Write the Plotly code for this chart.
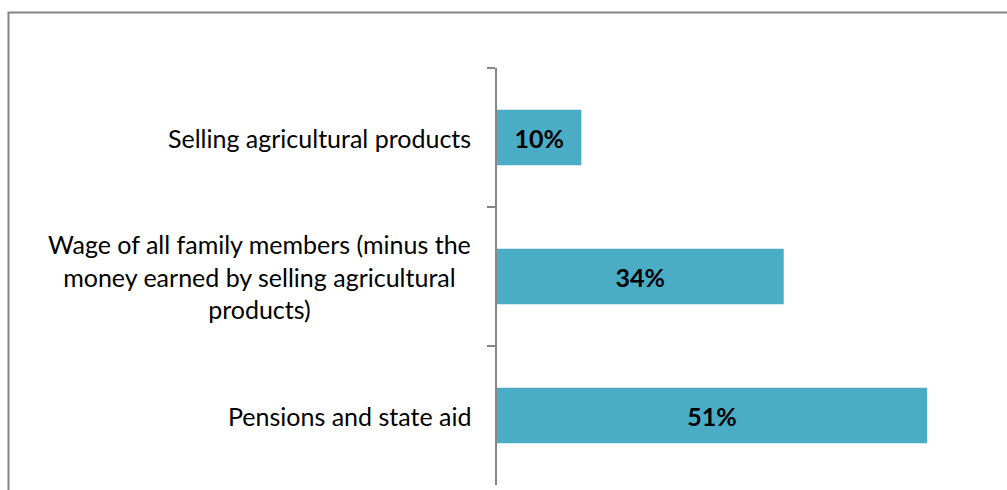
import plotly.graph_objects as go

# Income sources and their shares (%)
categories = [
    "Selling agricultural products",
    "Wage of all family members (minus the<br>money earned by selling agricultural<br>products)",
    "Pensions and state aid",
]
shares = [10, 34, 51]

BAR_COLOR = "#4BACC6"
FRAME_COLOR = "#868686"
FONT = "Lato"

W, H = 1007, 490
ML, MR, MT, MB = 497, 4, 68, 5
PW, PH = W - ML - MR, H - MT - MB

fig = go.Figure(
    go.Bar(
        x=shares,
        y=categories,
        orientation="h",
        marker=dict(color=BAR_COLOR, line=dict(width=0)),
        texttemplate="<b>%{x}%</b>",
        textposition="inside",
        insidetextanchor="middle",
        textfont=dict(family=FONT, size=25, color="#000000"),
        constraintext="none",
        hoverinfo="skip",
    )
)

# Category labels, centred multi-line text to the left of the axis
for cat in categories:
    fig.add_annotation(
        x=0, y=cat, xref="x", yref="y",
        text=cat, showarrow=False,
        xanchor="right", yanchor="middle", align="center",
        xshift=-24,
        font=dict(family=FONT, size=25, color="#000000"),
    )

# Outer chart frame (left and top edges visible)
fig.add_shape(
    type="rect", xref="paper", yref="paper",
    x0=(8.5 - ML) / PW, x1=(W + 20 - ML) / PW,
    y0=-(MB + 20) / PH, y1=1 + (MT - 12.5) / PH,
    line=dict(color=FRAME_COLOR, width=2),
    fillcolor="rgba(0,0,0,0)",
    layer="below",
)

fig.update_layout(
    width=W, height=H,
    margin=dict(l=ML, r=MR, t=MT, b=MB),
    paper_bgcolor="white",
    plot_bgcolor="white",
    bargap=0.6,
    showlegend=False,
    xaxis=dict(
        range=[0, 60], visible=False, fixedrange=True,
    ),
    yaxis=dict(
        autorange="reversed",
        showticklabels=False,
        showline=True, linecolor=FRAME_COLOR, linewidth=2,
        ticks="outside", ticklen=8, tickwidth=2, tickcolor=FRAME_COLOR,
        tickson="boundaries",
        showgrid=False, zeroline=False,
    ),
)

fig.write_html("out.html")
